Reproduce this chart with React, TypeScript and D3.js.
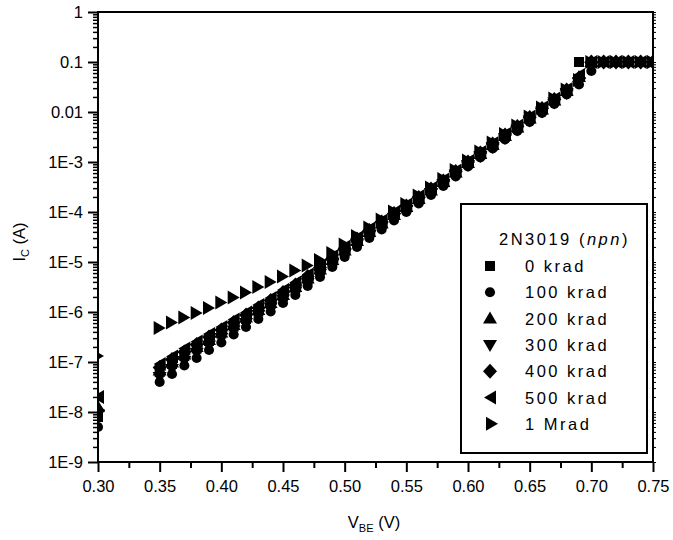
import React, { useEffect, useRef } from "react";
import * as d3 from "d3";

// base-emitter voltage (V); 0.30 point is the clipped one sitting on the axis
const vbe = [
  0.3, 0.35, 0.36, 0.37, 0.38, 0.39, 0.4, 0.41, 0.42, 0.43,
  0.44, 0.45, 0.46, 0.47, 0.48, 0.49, 0.5, 0.51, 0.52, 0.53,
  0.54, 0.55, 0.56, 0.57, 0.58, 0.59, 0.6, 0.61, 0.62, 0.63,
  0.64, 0.65, 0.66, 0.67, 0.68, 0.69, 0.7, 0.71, 0.72, 0.73,
  0.74, 0.75,
];

// log10 of Ic (A)
const logIc0k = [
  -8.1, -7.2, -7.04, -6.88, -6.73, -6.58, -6.43, -6.29, -6.14, -5.99,
  -5.84, -5.68, -5.52, -5.35, -5.17, -4.98, -4.78, -4.59, -4.41, -4.24,
  -4.08, -3.92, -3.75, -3.58, -3.41, -3.22, -3.03, -2.85, -2.67, -2.49,
  -2.32, -2.14, -1.96, -1.77, -1.57, -1.0, -1.0, -1.0, -1.0, -1.0,
  -1.0, -1.0,
];
const logIc100k = [
  -8.3, -7.4, -7.24, -7.07, -6.92, -6.76, -6.61, -6.45, -6.3, -6.14,
  -5.99, -5.82, -5.66, -5.48, -5.3, -5.1, -4.9, -4.7, -4.52, -4.35,
  -4.17, -4.0, -3.83, -3.66, -3.48, -3.29, -3.09, -2.91, -2.73, -2.55,
  -2.38, -2.2, -2.02, -1.84, -1.65, -1.45, -1.18, -1.0, -1.0, -1.0,
  -1.0, -1.0,
];
const logIc200k = [
  -7.9, -7.17, -7.01, -6.85, -6.7, -6.56, -6.41, -6.26, -6.11, -5.96,
  -5.82, -5.66, -5.5, -5.33, -5.15, -4.96, -4.77, -4.58, -4.4, -4.23,
  -4.06, -3.9, -3.74, -3.57, -3.4, -3.21, -3.02, -2.84, -2.66, -2.48,
  -2.31, -2.13, -1.95, -1.77, -1.58, -1.3, -1.0, -1.0, -1.0, -1.0,
  -1.0, -1.0,
];
const logIc300k = [
  -8.05, -7.3, -7.14, -6.98, -6.82, -6.67, -6.52, -6.37, -6.22, -6.06,
  -5.91, -5.75, -5.59, -5.42, -5.24, -5.04, -4.84, -4.65, -4.47, -4.29,
  -4.12, -3.96, -3.79, -3.62, -3.44, -3.25, -3.06, -2.88, -2.7, -2.52,
  -2.35, -2.17, -1.99, -1.81, -1.62, -1.4, -1.1, -1.0, -1.0, -1.0,
  -1.0, -1.0,
];
const logIc400k = [
  -7.97, -7.11, -6.95, -6.8, -6.65, -6.5, -6.36, -6.21, -6.06, -5.92,
  -5.77, -5.61, -5.46, -5.29, -5.11, -4.93, -4.73, -4.54, -4.37, -4.2,
  -4.03, -3.88, -3.71, -3.54, -3.38, -3.19, -3.0, -2.82, -2.64, -2.46,
  -2.29, -2.11, -1.93, -1.75, -1.56, -1.33, -1.0, -1.0, -1.0, -1.0,
  -1.0, -1.0,
];
const logIc500k = [
  -7.7, -7.04, -6.89, -6.73, -6.59, -6.44, -6.3, -6.15, -6.01, -5.86,
  -5.72, -5.56, -5.41, -5.25, -5.07, -4.88, -4.69, -4.51, -4.33, -4.17,
  -4.0, -3.85, -3.68, -3.52, -3.35, -3.17, -2.98, -2.8, -2.62, -2.44,
  -2.27, -2.09, -1.91, -1.73, -1.54, -1.26, -1.0, -1.0, -1.0, -1.0,
  -1.0, -1.0,
];
const logIc1M = [
  -6.88, -6.32, -6.21, -6.11, -6.02, -5.92, -5.81, -5.71, -5.61, -5.5,
  -5.4, -5.29, -5.17, -5.07, -4.96, -4.82, -4.65, -4.48, -4.31, -4.15,
  -3.99, -3.84, -3.67, -3.51, -3.34, -3.16, -2.97, -2.79, -2.61, -2.44,
  -2.27, -2.09, -1.91, -1.73, -1.55, -1.36, -1.0, -1.0, -1.0, -1.0,
  -1.0, -1.0,
];

const seriesNames = ["0 krad", "100 krad", "200 krad", "300 krad", "400 krad", "500 krad", "1 Mrad"];
const seriesValues = [logIc0k, logIc100k, logIc200k, logIc300k, logIc400k, logIc500k, logIc1M];

const yTickValues = [1, 0.1, 0.01, 1e-3, 1e-4, 1e-5, 1e-6, 1e-7, 1e-8, 1e-9];
const yTickLabels = ["1", "0.1", "0.01", "1E-3", "1E-4", "1E-5", "1E-6", "1E-7", "1E-8", "1E-9"];
const xTickValues = [0.3, 0.35, 0.4, 0.45, 0.5, 0.55, 0.6, 0.65, 0.7, 0.75];
const xTickLabels = ["0.30", "0.35", "0.40", "0.45", "0.50", "0.55", "0.60", "0.65", "0.70", "0.75"];

const FONT = "'Liberation Sans', Arial, sans-serif";

// marker shapes, one per series
const markers = [
  "M-5,-5H5V5H-5Z",
  d3.symbol().type(d3.symbolCircle).size(80)(),
  "M0,-7L7,5L-7,5Z",
  "M0,7L7,-5L-7,-5Z",
  "M0,-7.5L7,0L0,7.5L-7,0Z",
  "M-6,0L6,-7L6,7Z",
  "M6,0L-6,-7L-6,7Z",
];

export default function App() {
  const svgRef = useRef<SVGSVGElement>(null);

  useEffect(() => {
    const width = 673;
    const height = 540;
    const left = 98, right = 653, top = 12, bottom = 462;

    const svg = d3.select(svgRef.current);
    svg.selectAll("*").remove();
    svg.attr("width", width).attr("height", height);

    const x = d3.scaleLinear().domain([0.3, 0.75]).range([left, right]);
    const y = d3.scaleLog().domain([1e-9, 1]).range([bottom, top]);

    const minorY: number[] = [];
    for (let e = -9; e < 0; e++) {
      for (let m = 2; m <= 9; m++) minorY.push(m * Math.pow(10, e));
    }
    const minorX = d3.range(0, 9).map((i) => 0.325 + i * 0.05);

    svg
      .append("defs")
      .append("clipPath")
      .attr("id", "plot-clip")
      .append("rect")
      .attr("x", left)
      .attr("y", top)
      .attr("width", right - left)
      .attr("height", bottom - top);

    // data
    const g = svg.append("g").attr("clip-path", "url(#plot-clip)");
    seriesValues.forEach((vals, si) => {
      g.append("g")
        .selectAll("path")
        .data(vals)
        .join("path")
        .attr("d", markers[si])
        .attr("fill", "#000")
        .attr("transform", (d, i) => `translate(${x(vbe[i])},${y(Math.pow(10, d))})`);
    });

    // frame
    svg
      .append("rect")
      .attr("x", left)
      .attr("y", top)
      .attr("width", right - left)
      .attr("height", bottom - top)
      .attr("fill", "none")
      .attr("stroke", "#000")
      .attr("stroke-width", 2);

    const styleAxis = (sel: any, w: number) => {
      sel.select(".domain").remove();
      sel.selectAll("line").attr("stroke", "#000").attr("stroke-width", w);
      sel.selectAll("text").attr("fill", "#000").style("font-family", FONT).style("font-size", "16.5px");
    };

    // left axis
    svg
      .append("g")
      .attr("transform", `translate(${left},0)`)
      .call(d3.axisLeft(y).tickValues(minorY).tickSize(5).tickFormat(() => ""))
      .call((s: any) => styleAxis(s, 1.5));
    svg
      .append("g")
      .attr("transform", `translate(${left},0)`)
      .call(
        d3
          .axisLeft(y)
          .tickValues(yTickValues)
          .tickSize(10)
          .tickPadding(5)
          .tickFormat((d: any) => yTickLabels[yTickValues.indexOf(d)])
      )
      .call((s: any) => styleAxis(s, 2));

    // right axis: small outward ticks only
    svg
      .append("g")
      .attr("transform", `translate(${right},0)`)
      .call(d3.axisRight(y).tickValues(yTickValues.concat(minorY)).tickSize(3).tickFormat(() => ""))
      .call((s: any) => styleAxis(s, 1));

    // bottom axis
    svg
      .append("g")
      .attr("transform", `translate(0,${bottom})`)
      .call(d3.axisBottom(x).tickValues(minorX).tickSize(6).tickFormat(() => ""))
      .call((s: any) => styleAxis(s, 2));
    svg
      .append("g")
      .attr("transform", `translate(0,${bottom})`)
      .call(
        d3
          .axisBottom(x)
          .tickValues(xTickValues)
          .tickSize(10)
          .tickPadding(8)
          .tickFormat((d: any, i: number) => xTickLabels[i])
      )
      .call((s: any) => styleAxis(s, 2));

    // axis titles
    const xt = svg
      .append("text")
      .attr("x", 374)
      .attr("y", 528)
      .attr("text-anchor", "middle")
      .style("font-family", FONT)
      .style("font-size", "16.5px");
    xt.append("tspan").text("V");
    xt.append("tspan").attr("dy", 4).style("font-size", "11px").text("BE");
    xt.append("tspan").attr("dy", -4).text(" (V)");

    const yt = svg
      .append("text")
      .attr("transform", "translate(25,242) rotate(-90)")
      .attr("text-anchor", "middle")
      .style("font-family", FONT)
      .style("font-size", "16.5px");
    yt.append("tspan").text("I");
    yt.append("tspan").attr("dy", 4).style("font-size", "11px").text("C");
    yt.append("tspan").attr("dy", -4).text(" (A)");

    // legend
    const lg = svg.append("g");
    lg.append("rect")
      .attr("x", 461)
      .attr("y", 204)
      .attr("width", 186)
      .attr("height", 249)
      .attr("fill", "#fff")
      .attr("stroke", "#000")
      .attr("stroke-width", 2);

    const title = lg
      .append("text")
      .attr("x", 499)
      .attr("y", 245)
      .style("font-family", FONT)
      .style("font-size", "16.5px")
      .style("letter-spacing", "2.5px");
    title.append("tspan").text("2N3019 (");
    title.append("tspan").style("font-style", "italic").text("npn");
    title.append("tspan").text(")");

    seriesNames.forEach((name, i) => {
      const base = 272 + i * 26.3;
      lg.append("path")
        .attr("d", markers[i])
        .attr("fill", "#000")
        .attr("transform", `translate(${i === 6 ? 492 : 490},${base - 6})`);
      lg.append("text")
        .attr("x", 525)
        .attr("y", base)
        .style("font-family", FONT)
        .style("font-size", "16.5px")
        .style("letter-spacing", "2.5px")
        .text(name);
    });
  }, []);

  return (
    <div style={{ position: "absolute", left: 0, top: 0 }}>
      <svg ref={svgRef}></svg>
    </div>
  );
}
